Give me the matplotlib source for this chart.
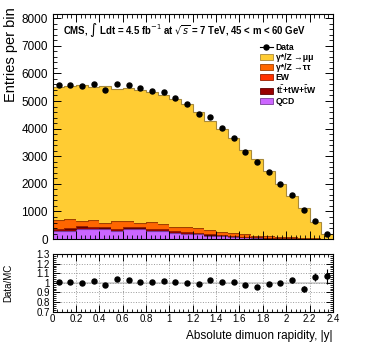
import numpy as np
import matplotlib
matplotlib.use("Agg")
import matplotlib.pyplot as plt
from matplotlib.ticker import MultipleLocator
from matplotlib.patches import Patch
from matplotlib.lines import Line2D

plt.rcParams['font.family'] = ['Liberation Sans', 'DejaVu Sans']
plt.rcParams['mathtext.fontset'] = 'dejavusans'

# binning in |y|
edges = np.round(np.arange(0, 2.41, 0.1), 2)
centers = 0.5 * (edges[:-1] + edges[1:])

# data points (entries per bin)
data = [5580, 5580, 5545, 5600, 5410, 5615, 5590, 5460, 5375, 5325, 5120, 4880,
        4520, 4410, 4010, 3670, 3160, 2780, 2420, 1990, 1605, 1060, 660, 190]

# MC components (stack order bottom -> top)
qcd = [290, 290, 380, 350, 350, 290, 350, 350, 300, 300, 230, 200,
       170, 130, 110, 80, 60, 40, 30, 25, 20, 15, 10, 5]
ttbar = [70, 75, 60, 70, 65, 75, 65, 60, 65, 55, 50, 45,
         40, 35, 30, 28, 24, 20, 16, 12, 10, 7, 5, 3]
ew = [20, 20, 20, 20, 18, 18, 18, 17, 17, 16, 15, 14,
      13, 12, 10, 9, 8, 7, 6, 5, 4, 3, 2, 1]
tautau = [310, 325, 205, 240, 157, 267, 217, 163, 238, 174, 155, 181,
          177, 143, 115, 88, 78, 63, 58, 48, 36, 25, 18, 11]
mumu = [4835, 4831, 4919, 4821, 4959, 4770, 4804, 4816, 4702, 4686, 4634, 4440,
        4184, 3966, 3717, 3440, 3048, 2775, 2344, 1908, 1496, 1078, 588, 158]

# ratio uncertainties
ratio_err = [0.012, 0.012, 0.012, 0.012, 0.012, 0.012, 0.012, 0.012, 0.012, 0.012,
             0.013, 0.013, 0.014, 0.014, 0.015, 0.016, 0.017, 0.018, 0.02, 0.022,
             0.026, 0.032, 0.045, 0.08]

components = [
    (qcd, "#cc66ff", "#7a3d99", "QCD"),
    (ttbar, "#990000", "#5c0000", r"t$\bar{\rm t}$+tW+$\bar{\rm t}$W"),
    (ew, "#ff3300", "#992000", "EW"),
    (tautau, "#ff6600", "#a04000", "γ*/Z →ττ"),
    (mumu, "#ffcc33", "#a88a3a", "γ*/Z →μμ"),
]

fig = plt.figure(figsize=(3.74, 3.59), dpi=100)
ax = fig.add_axes([0.141, 0.334, 0.749, 0.627])
axr = fig.add_axes([0.141, 0.132, 0.749, 0.1605])

base = np.zeros(len(centers))
for vals, fc, ec, lab in components:
    vals = np.array(vals, dtype=float)
    ax.stairs(base + vals, edges, baseline=base, fill=True, color=fc, lw=0)
    ax.stairs(base + vals, edges, baseline=None, color=ec, lw=0.8)
    base = base + vals
total = base

ax.errorbar(centers, data, yerr=np.sqrt(data), fmt='o', color='black', ms=3.6,
            elinewidth=0.8, capsize=0)

ax.set_xlim(0, 2.4)
ax.set_ylim(0, 8150)
ax.yaxis.set_major_locator(MultipleLocator(1000))
ax.yaxis.set_minor_locator(MultipleLocator(200))
ax.xaxis.set_major_locator(MultipleLocator(0.2))
ax.xaxis.set_minor_locator(MultipleLocator(0.04))
ax.tick_params(which='both', direction='in', top=True, right=True, labelbottom=False,
               labelsize=8.5)
ax.tick_params(which='major', length=6, width=0.7)
ax.tick_params(which='minor', length=3, width=0.6)
ax.set_ylabel("Entries per bin", fontsize=10.5, loc='top')
ax.yaxis.set_label_coords(-0.125, 1.03)
for s in ax.spines.values():
    s.set_linewidth(0.8)

ax.text(0.035, 0.93, r"CMS, $\int$ Ldt = 4.5 fb$^{-1}$ at $\sqrt{s}$ = 7 TeV, 45 < m < 60 GeV",
        transform=ax.transAxes, fontsize=6.95, fontweight='bold', va='center')

handles = [Line2D([], [], color='black', marker='o', ms=3.6, lw=0.8)]
labels = ["Data"]
for vals, fc, ec, lab in components[::-1]:
    handles.append(Patch(facecolor=fc, edgecolor=ec, lw=0.6))
    labels.append(lab)
leg = ax.legend(handles, labels, loc='upper left', bbox_to_anchor=(0.74, 0.872),
                frameon=False, fontsize=6.2, handlelength=1.5, handleheight=0.75,
                labelspacing=0.12, handletextpad=0.3, borderpad=0, borderaxespad=0)
for t in leg.get_texts():
    t.set_fontweight('bold')

# ratio panel
ratio = np.array(data) / total
axr.errorbar(centers, ratio, yerr=ratio_err, fmt='o', color='black', ms=3.6,
             elinewidth=0.8, capsize=0)
axr.set_xlim(0, 2.4)
axr.set_ylim(0.7, 1.3)
axr.xaxis.set_major_locator(MultipleLocator(0.2))
axr.xaxis.set_minor_locator(MultipleLocator(0.04))
axr.yaxis.set_major_locator(MultipleLocator(0.1))
axr.yaxis.set_minor_locator(MultipleLocator(0.02))
axr.grid(True, which='major', color='#999999', ls=':', lw=0.7)
axr.axhline(1.0, color='#cccccc', lw=1.2, zorder=0)
axr.tick_params(which='both', direction='in', top=True, right=True, labelsize=7)
axr.tick_params(which='major', length=5, width=0.7, pad=2)
axr.tick_params(which='minor', length=2.5, width=0.6)
axr.set_yticks(np.round(np.arange(0.7, 1.31, 0.1), 1))
axr.set_yticklabels(["0.7", "0.8", "0.9", "1", "1.1", "1.2", "1.3"])
axr.set_xticks(np.round(np.arange(0, 2.41, 0.2), 1))
axr.set_xticklabels(["0", "0.2", "0.4", "0.6", "0.8", "1", "1.2", "1.4", "1.6",
                     "1.8", "2", "2.2", "2.4"])
axr.set_ylabel("Data/MC", fontsize=7)
axr.yaxis.set_label_coords(-0.14, 0.5)
axr.set_xlabel("Absolute dimuon rapidity, |y|", fontsize=8.5, loc='right')
for s in axr.spines.values():
    s.set_linewidth(0.8)

fig.savefig("out.png", dpi=100)
